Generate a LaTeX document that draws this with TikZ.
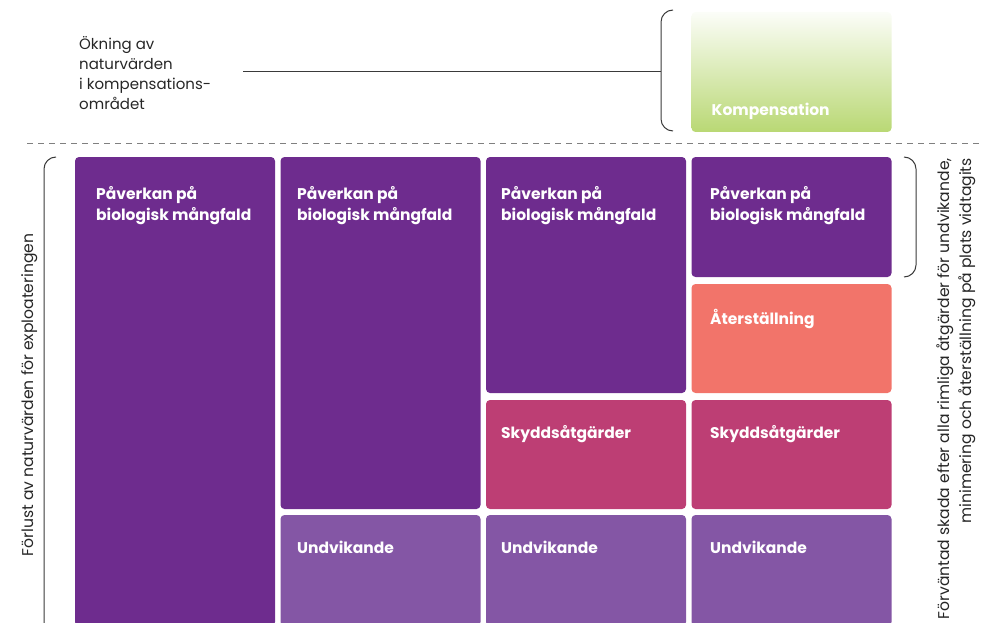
\documentclass[tikz,border=0pt]{standalone}
\usepackage{fontspec}
\setmainfont{Poppins}
\usetikzlibrary{positioning}

\definecolor{impact}{HTML}{6E2C8E}
\definecolor{avoid}{HTML}{8456A5}
\definecolor{protect}{HTML}{BD3E74}
\definecolor{restore}{HTML}{F2746A}
\definecolor{offset}{HTML}{B9D874}
\definecolor{bracegray}{HTML}{3A3A3A}

\begin{document}
\begin{tikzpicture}[x=1pt,y=-1pt,
    box/.style={rounded corners=4pt},
    lbl/.style={anchor=base west, inner sep=0pt, text=white, align=left,
      font=\fontsize{15.5}{21}\selectfont\bfseries},
    note/.style={inner sep=0pt, text=black!85,
      font=\fontsize{15.6}{22}\selectfont},
    bracket/.style={draw=bracegray, line width=1pt, rounded corners=12pt}]
  \useasboundingbox (0,0) rectangle (982,623);

  \begin{scope}
    \clip (0,0) rectangle (982,623);

    % Columns: impact on biodiversity
    \foreach \c/\x/\b/\t in {1/75/626/96, 2/280.5/509/297, 3/486/393/501, 4/691.5/277/710} {
      \fill[impact, box] (\x,157) rectangle (\x+200,\b);
      \node[lbl] (imp\c) at (\t,220) {Påverkan på\\biologisk mångfald};
    }

    % Avoidance
    \foreach \c/\x/\t in {2/280.5/297, 3/486/501, 4/691.5/710} {
      \fill[avoid, box] (\x,515) rectangle (\x+200,626);
      \node[lbl] (avd\c) at (\t,553) {Undvikande};
    }

    % Protection measures
    \foreach \c/\x/\t in {3/486/501, 4/691.5/710} {
      \fill[protect, box] (\x,400) rectangle (\x+200,509);
      \node[lbl] (prt\c) at (\t,438) {Skyddsåtgärder};
    }

    % Restoration and compensation
    \fill[restore, box] (691.5,284) rectangle (891.5,393);
    \node[lbl] (rst) at (710,324) {Återställning};
    \shade[box, top color=offset!5, bottom color=offset] (691.5,12) rectangle (891.5,132);
    \node[lbl] (cmp) at (711.5,116) {Kompensation};

    % Dashed divider
    \draw[gray, line width=1.3pt, dash pattern=on 6pt off 5pt] (27,143.5) -- (982,143.5);

    % Brackets
    \draw[bracket] (673,10) -- (661,10) -- (661,131) -- (673,131);
    \draw[bracket] (56,157) -- (44,157) -- (44,640) -- (56,640);
    \draw[bracket] (904,157) -- (916,157) -- (916,277) -- (904,277);
  \end{scope}

  % Side texts
  \node[note, anchor=base west, align=left, font=\fontsize{15}{20}\selectfont] (gain) at (79,110)
    {Ökning av\\naturvärden\\i kompensations-\\området};
  \coordinate (gainend) at (243,72);
  \coordinate (cmpbrace) at (661,72);
  \draw[bracegray, line width=1pt] (gainend) -- (cmpbrace);

  \node[note, rotate=90, anchor=base] (loss) at (33,395)
    {Förlust av naturvärden för exploateringen};
  \node[note, rotate=90, anchor=east, align=right] (harm) at (956,158)
    {Förväntad skada efter alla rimliga åtgärder för undvikande,\\minimering och återställning på plats vidtagits};
\end{tikzpicture}
\end{document}
